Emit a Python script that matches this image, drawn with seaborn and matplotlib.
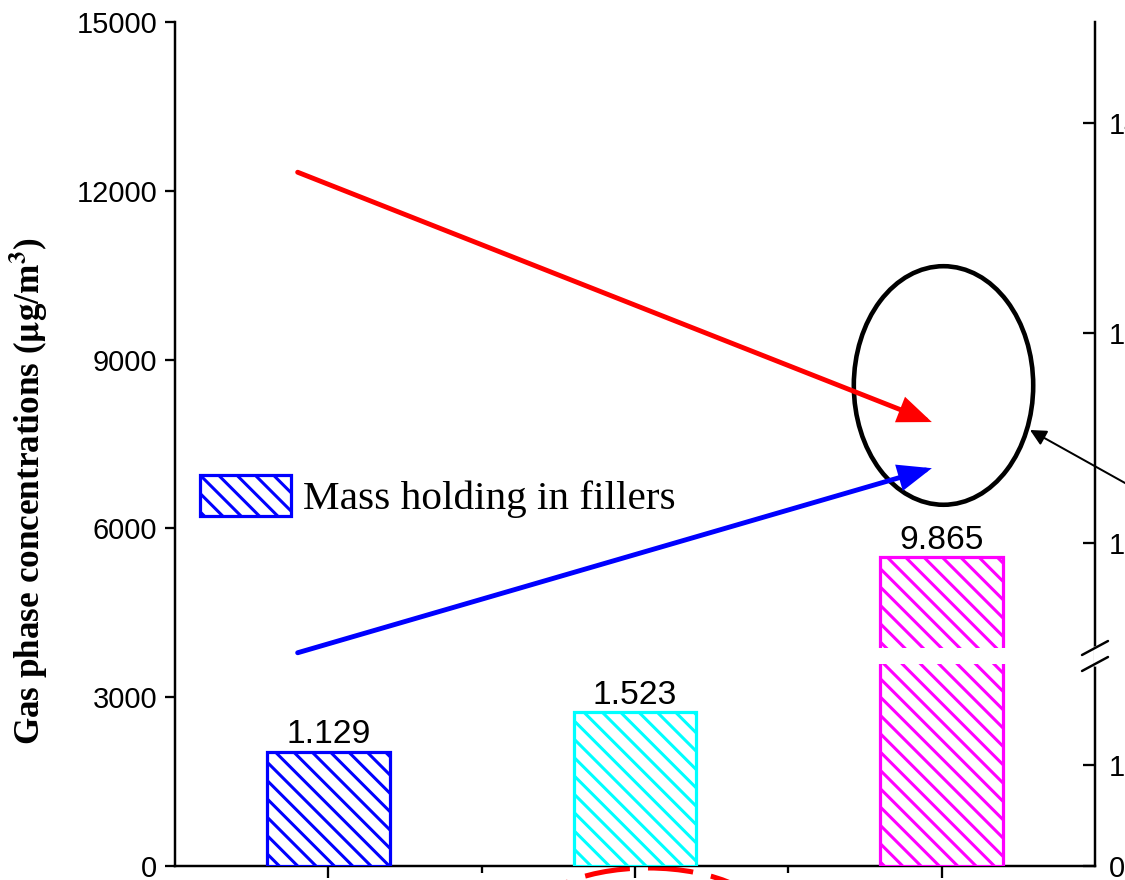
import numpy as np
import pandas as pd
import seaborn as sns
import matplotlib.pyplot as plt
from matplotlib.patches import Ellipse, Rectangle, Patch
from matplotlib.transforms import blended_transform_factory

# data
categories = ["S1", "S2", "S3"]
mass_holding = [1.129, 1.523, 9.865]
bar_colors = ["#0000ff", "#00ffff", "#ff00ff"]

gas_x = [-0.1, 1.968]                 # start / end of the gas-phase arrows
gas_red = [12330, 7890]
gas_blue = [3790, 7070]

left_ticks = [0, 3000, 6000, 9000, 12000, 15000]
right_ticks = [0, 1, 10, 12, 14]
right_labels = ["0", "1", "10", "12", "14"]

# broken right axis: value -> pixel height (piecewise)
brk_vals = [0, 2, 9, 15]
brk_pix = [0, 202, 218, 848]


def fwd(v):
    return np.interp(v, brk_vals, brk_pix)


def inv(p):
    return np.interp(p, brk_pix, brk_vals)


sns.set_style("ticks")
plt.rcParams["font.family"] = ["Liberation Sans", "DejaVu Sans"]
plt.rcParams["mathtext.fontset"] = "stix"
plt.rcParams["hatch.linewidth"] = 2.0
for k in ["text.color", "axes.labelcolor", "xtick.color", "ytick.color", "axes.edgecolor"]:
    plt.rcParams[k] = "black"

DPI = 110
fig = plt.figure(figsize=(1125 / DPI, 880 / DPI), dpi=DPI)
ax = fig.add_axes([175 / 1125, 14 / 880, 920 / 1125, 844 / 880])
ax2 = ax.twinx()
ax2.set_yscale("function", functions=(fwd, inv))
ax2.set_ylim(0, inv(844))

df = pd.DataFrame({"cat": categories, "mass": mass_holding})
sns.barplot(data=df, x="cat", y="mass", hue="cat", palette=bar_colors,
            width=0.4, saturation=1, legend=False, ax=ax2)
ax2.set_ylim(0, inv(844))

for cont, col, lab in zip(ax2.containers, bar_colors, mass_holding):
    for p in cont:
        p.set_facecolor("white")
        p.set_edgecolor(col)
        p.set_hatch("\\\\")
        p.set_linewidth(2.1)
    ax2.bar_label(cont, labels=[f"{lab:.3f}"], padding=1, fontsize=22)

# gap in the tall bar
tall = ax2.patches[2]
ax2.add_patch(Rectangle((tall.get_x() - 0.03, 2.0), tall.get_width() + 0.06, 7.0,
                        facecolor="white", edgecolor="none", zorder=6))

# left axis
ax.set_xlim(-0.5, 2.5)
ax.set_ylim(0, 15000)
ax.set_yticks(left_ticks)
ax.set_ylabel(r"Gas phase concentrations ($\mathbf{\mu}$g/m$^\mathbf{3}$)",
              family=["Liberation Serif"], fontweight="bold", fontsize=23)
ax.yaxis.set_label_coords(-0.136, 0.444)
ax.tick_params(axis="y", direction="out", length=6.5, width=1.5, labelsize=19, pad=5)
for s in ["left", "bottom"]:
    ax.spines[s].set_linewidth(1.6)
ax.spines["top"].set_visible(False)
ax.spines["right"].set_visible(False)

# right axis
ax2.set_yticks(right_ticks)
ax2.set_yticklabels(right_labels)
ax2.minorticks_off()
ax2.set_xlabel("")
ax2.set_ylabel("")
ax2.tick_params(axis="y", direction="in", length=8, width=1.5, labelsize=19, pad=9)
ax2.spines["right"].set_linewidth(1.6)
for s in ["left", "top", "bottom"]:
    ax2.spines[s].set_visible(False)

# x ticks (no labels in the crop)
ax.set_xticks([0, 1, 2])
ax.set_xticks([0.5, 1.5], minor=True)
ax.set_xticklabels([])
ax.tick_params(axis="x", which="major", direction="out", length=8, width=1.5)
ax.tick_params(axis="x", which="minor", direction="out", length=4.5, width=1.5)

# break marks on right spine
bt = blended_transform_factory(ax2.transAxes, ax2.transData)
ax2.plot([1, 1], [2.0, 9.0], transform=bt, color="white", lw=3, clip_on=False, zorder=10)
y_lo = ax2.transAxes.inverted().transform(ax2.transData.transform((0, 2.0)))[1]
y_hi = ax2.transAxes.inverted().transform(ax2.transData.transform((0, 9.0)))[1]
dx = 13 / 920
dy = 7 / 844
for yy in [y_lo, y_hi]:
    ax2.plot([1 - dx, 1 + dx], [yy - dy, yy + dy], transform=ax2.transAxes,
             color="black", lw=1.6, clip_on=False, zorder=11)

# gas phase arrows
for ys, col in [(gas_red, "red"), (gas_blue, "blue")]:
    ax.annotate("", xy=(gas_x[1], ys[1]), xytext=(gas_x[0], ys[0]),
                arrowprops=dict(arrowstyle="-|>,head_length=0.55,head_width=0.22",
                                color=col, lw=3.2, mutation_scale=30,
                                shrinkA=0, shrinkB=0, joinstyle="miter"))

# highlight ellipse and pointer
ax.add_patch(Ellipse((2.006, 8540), 0.585, 4240, fill=False, edgecolor="black", lw=3))
ax.annotate("", xy=(2.288, 7749), xytext=(2.712, 6460), annotation_clip=False,
            arrowprops=dict(arrowstyle="-|>", color="black", lw=1.3,
                            mutation_scale=22, shrinkA=0, shrinkB=0))

# dashed red ring below the axis (cropped)
ax.add_patch(Ellipse((1.042, -1102), 0.815, 2133, fill=False, edgecolor="red",
                     lw=3.3, linestyle=(0, (9, 3.6)), clip_on=False))

# legend
handle = Patch(facecolor="white", edgecolor="blue", hatch="\\\\", linewidth=2.1)
ax2.legend([handle], ["Mass holding in fillers"], loc="center left",
           bbox_to_anchor=(0.027, 0.438), frameon=False, borderpad=0, borderaxespad=0,
           handlelength=2.2, handleheight=1.15, handletextpad=0.3,
           prop={"family": "Liberation Serif", "size": 27})

fig.savefig("out.png", dpi=DPI)
